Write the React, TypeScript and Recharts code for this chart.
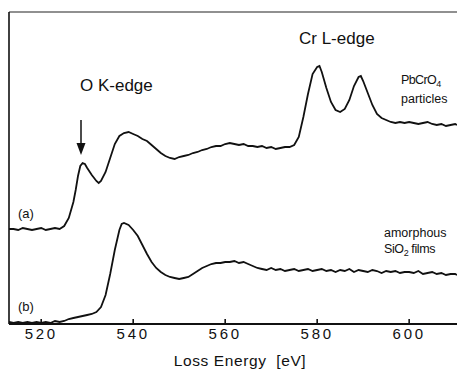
import { ComposedChart, Line, XAxis, YAxis, ReferenceLine } from "recharts";

// energy loss axis, eV
const energyTicks = [520, 540, 560, 580, 600];
const energyDomain = [513, 610.4];

// (a) PbCrO4 particles
const energyA = [
  513, 514, 515, 516, 517, 518, 519, 520, 521, 522, 523, 524, 525, 526, 527, 527.5, 528, 528.5, 529, 529.5, 530, 531, 532,
  532.5, 533, 534, 535, 536, 537, 538, 539, 540, 541, 542, 543, 544, 545, 546, 547, 548, 549, 550, 551, 552, 553, 554, 555,
  556, 557, 558, 559, 560, 561, 562, 563, 564, 565, 566, 567, 568, 569, 570, 571, 572, 573, 574, 575, 576, 577, 578, 579,
  580, 580.5, 581, 582, 583, 584, 585, 586, 587, 588, 589, 589.5, 590, 591, 592, 593, 594, 595, 596, 597, 598, 599, 600,
  601, 602, 603, 604, 605, 606, 607, 608, 609, 610, 610.4,
];
const intensityA = [
  95, 95, 94, 96, 95, 94, 95, 96, 94, 95, 96, 95, 98, 106, 122, 134, 148, 158, 161, 160, 156, 149, 143,
  141, 143, 152, 166, 180, 188, 191, 192, 190, 188, 185, 183, 179, 175, 171, 168, 166, 165, 167, 168, 169, 171, 172, 174,
  175, 177, 178, 178, 180, 181, 180, 179, 180, 178, 178, 177, 178, 176, 177, 175, 176, 177, 177, 179, 187, 207, 230, 250,
  257, 258, 252, 236, 222, 214, 212, 215, 224, 238, 247, 248, 243, 231, 219, 210, 206, 204, 202, 201, 202, 201, 202,
  201, 200, 201, 202, 200, 199, 200, 198, 199, 200, 199,
];

// (b) amorphous SiO2 films
const energyB = [
  513, 514, 515, 516, 517, 518, 519, 520, 521, 522, 523, 524, 525, 526, 527, 528, 529, 530, 531, 532, 533, 534, 535, 536,
  537, 537.5, 538, 539, 540, 541, 542, 543, 544, 545, 546, 547, 548, 549, 550, 551, 552, 553, 554, 555, 556, 557, 558, 559,
  560, 561, 562, 563, 564, 565, 566, 567, 568, 569, 570, 571, 572, 573, 574, 575, 576, 577, 578, 579, 580, 581, 582, 583,
  584, 585, 586, 587, 588, 589, 590, 591, 592, 593, 594, 595, 596, 597, 598, 599, 600, 601, 602, 603, 604, 605, 606, 607,
  608, 609, 610, 610.4,
];
const intensityB = [
  2, 1, 2, 1, 2, 1, 2, 1, 2, 1, 3, 2, 3, 5, 6, 7, 8, 9, 10, 12, 17, 29, 50, 74,
  94, 100, 101, 99, 94, 88, 79, 70, 62, 56, 52, 49, 47, 46, 45, 46, 47, 50, 53, 56, 58, 60, 61, 61,
  62, 62, 63, 61, 62, 60, 58, 56, 55, 54, 56, 54, 55, 53, 54, 55, 53, 54, 55, 53, 54, 55, 53, 54,
  52, 54, 53, 55, 52, 54, 53, 52, 54, 53, 51, 53, 52, 53, 51, 52, 52, 51, 53, 50, 51, 52, 50, 51,
  49, 50, 50, 49,
];

const seriesA = energyA.map((e, i) => ({ e, v: intensityA[i] }));
const seriesB = energyB.map((e, i) => ({ e, v: intensityB[i] }));

const FONT = "'Liberation Sans', Arial, sans-serif";
const INK = "#111";

const W = 457;
const H = 369;

// text annotations and arrow, overlaid on the chart
function Annotations() {
  return (
    <svg width={W} height={H} style={{ position: "absolute", left: 0, top: 0, pointerEvents: "none" }}>
      <text x={80} y={91} fontFamily={FONT} fontSize={17} fill={INK}>O K-edge</text>
      <text x={299} y={44} fontFamily={FONT} fontSize={17} fill={INK}>Cr L-edge</text>
      <text x={401} y={84} fontFamily={FONT} fontSize={12.5} fill={INK} letterSpacing={-0.6}>
        PbCrO<tspan fontSize={9} dy={3}>4</tspan>
      </text>
      <text x={401} y={103} fontFamily={FONT} fontSize={12.5} fill={INK}>particles</text>
      <text x={18} y={218} fontFamily={FONT} fontSize={13} fill={INK}>(a)</text>
      <text x={18} y={311} fontFamily={FONT} fontSize={13} fill={INK}>(b)</text>
      <text x={384} y={237} fontFamily={FONT} fontSize={12.5} fill={INK}>amorphous</text>
      <text x={384} y={253} fontFamily={FONT} fontSize={12.5} fill={INK} letterSpacing={-0.4}>
        SiO<tspan fontSize={9} dy={3}>2</tspan>
        <tspan dy={-3}> films</tspan>
      </text>
      <line x1={81} y1={120} x2={81} y2={148} stroke={INK} strokeWidth={1.5} />
      <path d="M76.5,143 L85.5,143 L81,155 Z" fill={INK} />
      <text x={240} y={366} textAnchor="middle" fontFamily={FONT} fontSize={15.5} fill={INK} letterSpacing={0.6}>
        {"Loss Energy\u00a0\u00a0[eV]"}
      </text>
    </svg>
  );
}

export default function App() {
  return (
    <div style={{ position: "absolute", left: 0, top: 0, width: W, height: H, background: "#fff" }}>
      <ComposedChart width={W} height={H} margin={{ top: 12, right: 0, bottom: 0, left: 9 }}>
        <XAxis
          type="number"
          dataKey="e"
          domain={energyDomain}
          ticks={energyTicks}
          allowDataOverflow
          height={45}
          axisLine={{ stroke: INK, strokeWidth: 2 }}
          tickLine={{ stroke: INK, strokeWidth: 1.6 }}
          tickSize={-5}
          tickMargin={9}
          tick={{ fontFamily: FONT, fontSize: 15, fill: INK, letterSpacing: 2.7 }}
        />
        <YAxis type="number" domain={[0, 312]} hide allowDataOverflow />
        {/* frame: top and left edges */}
        <ReferenceLine y={312} stroke="#222" strokeWidth={1.2} />
        <ReferenceLine x={513} stroke={INK} strokeWidth={1.6} />
        <Line data={seriesA} dataKey="v" type="linear" stroke={INK} strokeWidth={1.8} dot={false} isAnimationActive={false} />
        <Line data={seriesB} dataKey="v" type="linear" stroke={INK} strokeWidth={1.8} dot={false} isAnimationActive={false} />
      </ComposedChart>
      <Annotations />
    </div>
  );
}
